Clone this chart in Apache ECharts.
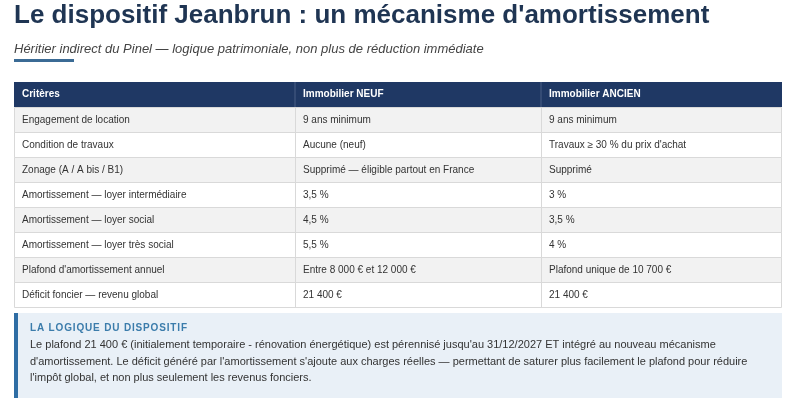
<!DOCTYPE html><html><head><meta charset="utf-8"><script src="https://cdn.jsdelivr.net/npm/echarts@6/dist/echarts.min.js"></script>
<style>html,body{margin:0;background:#fff}#c{width:800px;height:408px}</style></head><body><div id="c"></div><script>
const title="Le dispositif Jeanbrun : un mécanisme d'amortissement";
const subtitle="Héritier indirect du Pinel — logique patrimoniale, non plus de réduction immédiate";
const headers=["Critères","Immobilier NEUF","Immobilier ANCIEN"];
const criteria=["Engagement de location","Condition de travaux","Zonage (A / A bis / B1)","Amortissement — loyer intermédiaire","Amortissement — loyer social","Amortissement — loyer très social","Plafond d'amortissement annuel","Déficit foncier — revenu global"];
const neuf=["9 ans minimum","Aucune (neuf)","Supprimé — éligible partout en France","3,5 %","4,5 %","5,5 %","Entre 8 000 € et 12 000 €","21 400 €"];
const ancien=["9 ans minimum","Travaux ≥ 30 % du prix d'achat","Supprimé","3 %","3,5 %","4 %","Plafond unique de 10 700 €","21 400 €"];
const noteTitle="LA LOGIQUE DU DISPOSITIF";
const noteLines=["Le plafond 21 400 € (initialement temporaire - rénovation énergétique) est pérennisé jusqu'au 31/12/2027 ET intégré au nouveau mécanisme","d'amortissement. Le déficit généré par l'amortissement s'ajoute aux charges réelles — permettant de saturer plus facilement le plafond pour réduire","l'impôt global, et non plus seulement les revenus fonciers."];
const F="'Liberation Sans Narrow','Liberation Sans',sans-serif";
const colX=[14,295,541,782], T0=82, rh=25;
const g=[];
g.push({type:'text',left:14,top:3,style:{text:title,font:"bold 26px "+F,fill:'#1f3553'}});
g.push({type:'text',left:14,top:43,style:{text:subtitle,font:"italic 13px "+F,fill:'#444'}});
g.push({type:'rect',shape:{x:14,y:59,width:60,height:3},style:{fill:'#3b6b95'}});
g.push({type:'rect',shape:{x:14,y:T0,width:768,height:rh},style:{fill:'#1f3864'}});
headers.forEach((h,i)=>{g.push({type:'text',x:colX[i]+8,y:T0+rh/2,style:{text:h,font:"bold 10px "+F,fill:'#fff',verticalAlign:'middle'}});
 if(i>0)g.push({type:'line',shape:{x1:colX[i],y1:T0,x2:colX[i],y2:T0+rh},style:{stroke:'#4a5f85',lineWidth:1}});});
criteria.forEach((c,r)=>{const y=T0+rh*(r+1);
 g.push({type:'rect',shape:{x:14.5,y:y+0.5,width:767,height:rh},style:{fill:r%2===0?'#f2f2f2':'#fff',stroke:'#d9d9d9',lineWidth:1}});
 [c,neuf[r],ancien[r]].forEach((t,i)=>{g.push({type:'text',x:colX[i]+8,y:y+rh/2+1,style:{text:t,font:"10px "+F,fill:'#333',verticalAlign:'middle'}});
  if(i>0)g.push({type:'line',shape:{x1:colX[i]+0.5,y1:y,x2:colX[i]+0.5,y2:y+rh},style:{stroke:'#d9d9d9',lineWidth:1}});});});
g.push({type:'rect',shape:{x:14,y:313,width:768,height:85},style:{fill:'#e9f0f7'}});
g.push({type:'rect',shape:{x:14,y:313,width:4,height:85},style:{fill:'#2e6da4'}});
g.push({type:'text',x:30,y:328,style:{text:noteTitle.split('').join('\u200a'),font:"bold 10px "+F,fill:'#3b7cab',verticalAlign:'middle'}});
noteLines.forEach((l,i)=>g.push({type:'text',x:30,y:345+i*16.5,style:{text:l,font:"11px "+F,fill:'#333',verticalAlign:'middle'}}));
const ch=echarts.init(document.getElementById('c'));
ch.setOption({animation:false,graphic:g});
</script></body></html>
